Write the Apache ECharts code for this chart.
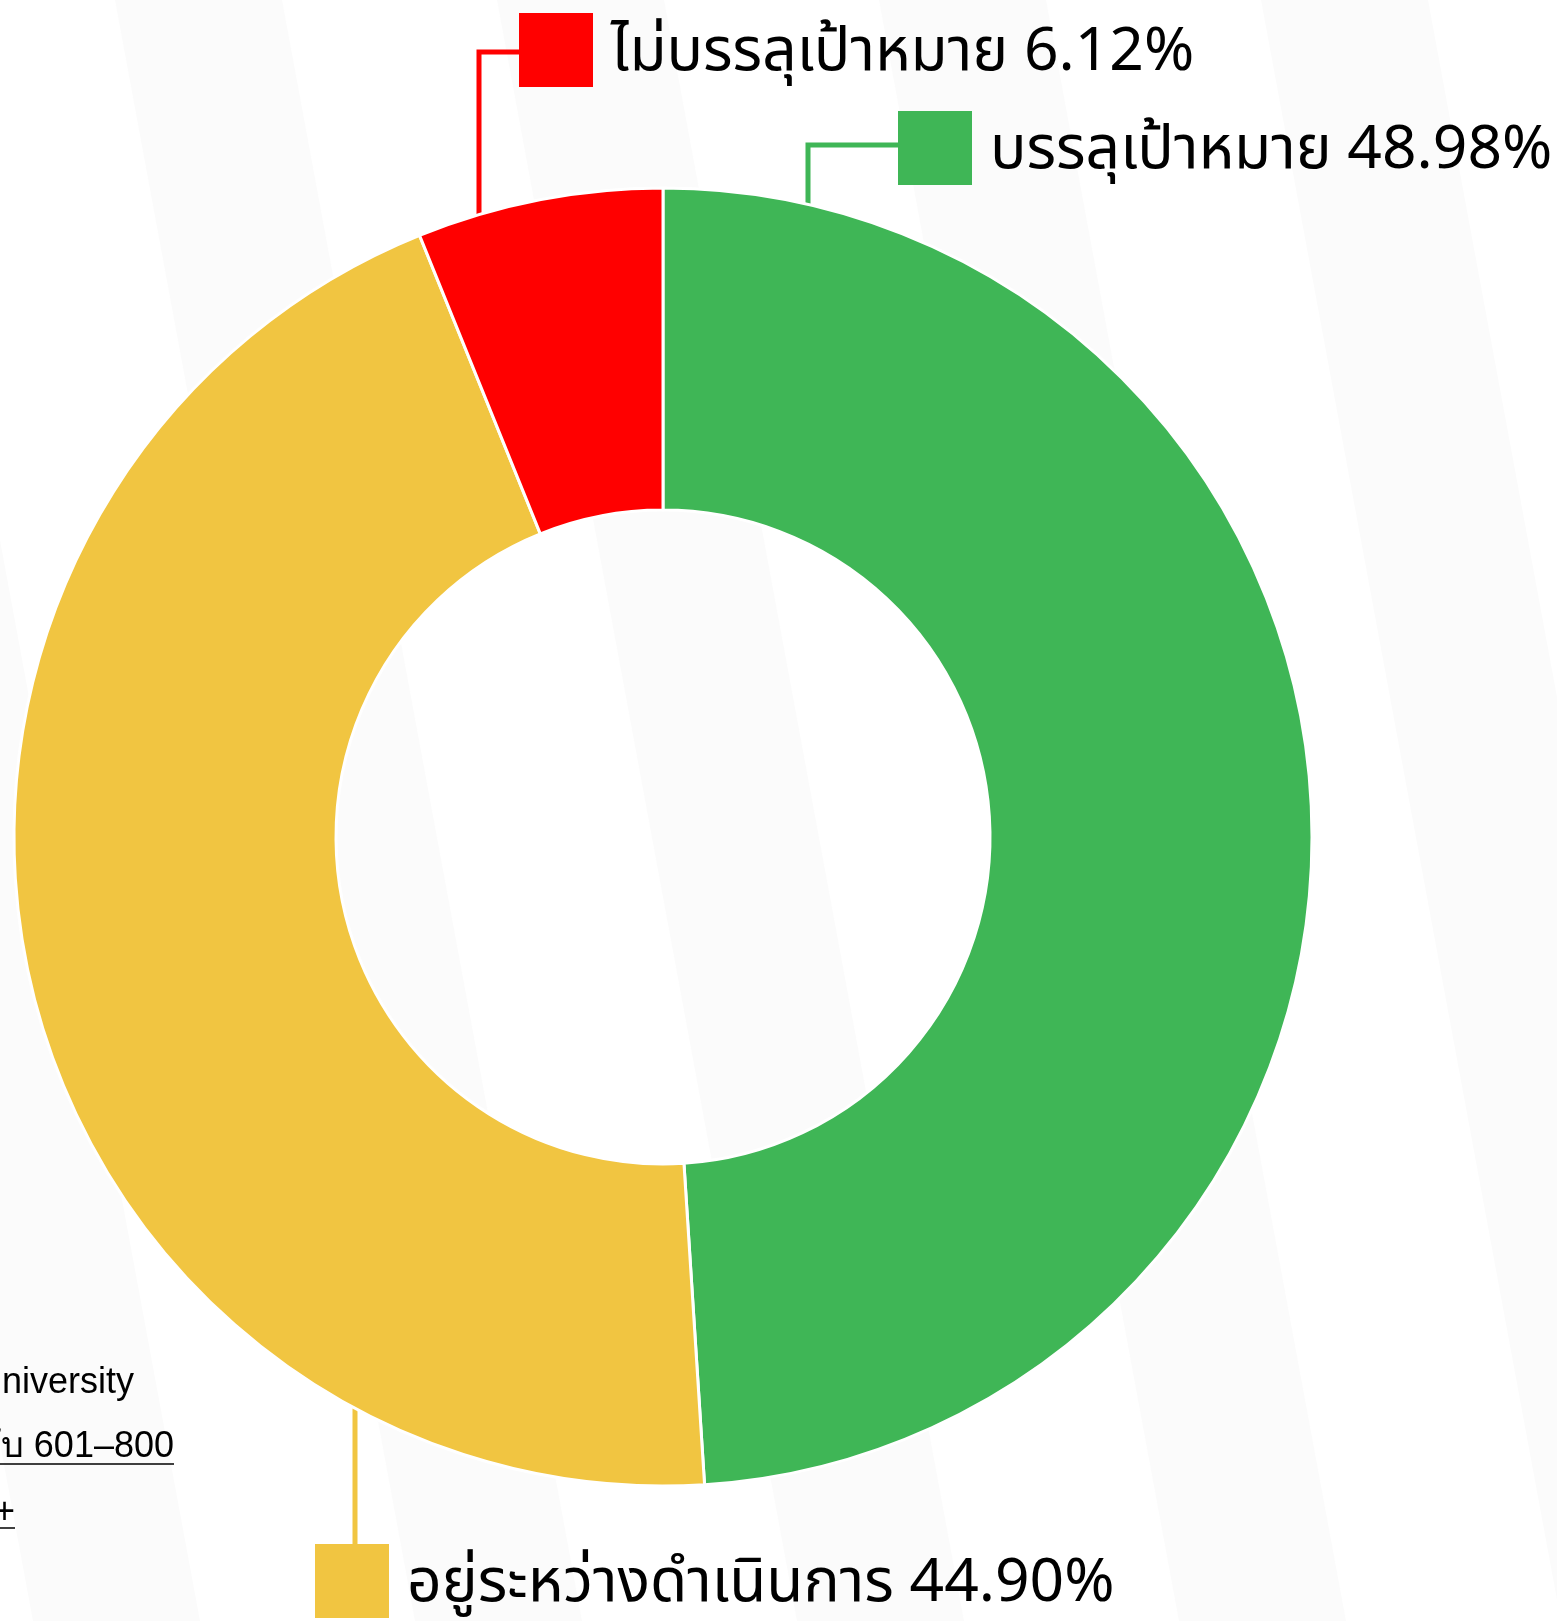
<!DOCTYPE html>
<html>
<head>
<meta charset="utf-8">
<script src="https://cdn.jsdelivr.net/npm/echarts@6/dist/echarts.min.js"></script>
<style>
  html, body { margin: 0; padding: 0; background: #fff; }
  #chart { width: 1557px; height: 1621px; }
</style>
</head>
<body>
<div id="chart"></div>
<script>
// สถานะตัวชี้วัด (%)
const statusNames = ['บรรลุเป้าหมาย', 'อยู่ระหว่างดำเนินการ', 'ไม่บรรลุเป้าหมาย'];
const statusValues = [48.98, 44.90, 6.12];
const statusColors = ['#3fb656', '#f1c541', '#ff0000'];

// label box placement + where the leader line drops from the ring
const labelSpots = [
  { x: 898, y: 148, lineX: 808, lineY: 145 },
  { x: 315, y: 1581, lineX: 355, lineY: 1544 },
  { x: 519, y: 50, lineX: 479, lineY: 52 }
];

const cx = 663, cy = 837, rIn = 327, rOut = 649;
const thaiFont = '"Noto Sans Thai", "Noto Sans", sans-serif';

// faint diagonal page stripes behind the chart
const bg = [];
for (let k = -1; k < 5; k++) {
  const x0 = 115 + k * 382;
  bg.push({
    type: 'polygon', silent: true, z: -10,
    shape: { points: [[x0, 0], [x0 + 167, 0], [x0 + 467, 1621], [x0 + 300, 1621]] },
    style: { fill: '#fbfbfb' }
  });
}
// bits of page text peeking in at the bottom left
const pageFont = '"Liberation Sans", Arial, sans-serif';
function pageText(t, x, y) {
  return {
    type: 'text', x: x, y: y, silent: true, z: -5,
    style: { text: t, fontSize: 36, fontFamily: pageFont, fill: '#000',
      textAlign: 'right', textVerticalAlign: 'middle', align: 'right', verticalAlign: 'middle' }
  };
}
bg.push(pageText('University', 134, 1383));
bg.push(pageText('อันดับ 601–800', 174, 1447));
bg.push(pageText('1001+', 15, 1513));
bg.push({ type: 'line', silent: true, z: -5, shape: { x1: 0, y1: 1464, x2: 174, y2: 1464 }, style: { stroke: '#000', lineWidth: 1.5 } });
bg.push({ type: 'line', silent: true, z: -5, shape: { x1: 0, y1: 1528, x2: 15, y2: 1528 }, style: { stroke: '#000', lineWidth: 1.5 } });

const chart = echarts.init(document.getElementById('chart'));

const option = {
  backgroundColor: '#fff',
  animation: false,
  graphic: { elements: bg },
  series: [{
    type: 'pie',
    center: [cx, cy],
    radius: [rIn, rOut],
    startAngle: 90,
    clockwise: true,
    silent: true,
    avoidLabelOverlap: false,
    itemStyle: { borderColor: '#fff', borderWidth: 3 },
    label: {
      show: true,
      position: 'outside',
      formatter: function (p) {
        return '{box| }{txt|' + p.name + ' ' + p.value.toFixed(2) + '%}';
      }
    },
    labelLine: { show: true, lineStyle: { width: 5 } },
    labelLayout: function (params) {
      const s = labelSpots[params.dataIndex];
      const dx = s.lineX - cx;
      const h = Math.sqrt(rOut * rOut - dx * dx);
      let pts;
      if (s.lineY < cy) {
        pts = [[s.lineX, cy - h], [s.lineX, s.lineY], [s.x, s.lineY]];
      } else {
        const y0 = cy + h;
        pts = [[s.lineX, y0], [s.lineX, (y0 + s.lineY) / 2], [s.lineX, s.lineY]];
      }
      return { x: s.x, y: s.y, align: 'left', verticalAlign: 'middle', labelLinePoints: pts };
    },
    data: statusNames.map(function (n, i) {
      return {
        name: n,
        value: statusValues[i],
        itemStyle: { color: statusColors[i] },
        labelLine: { lineStyle: { color: statusColors[i], width: 5 } },
        label: {
          rich: {
            box: { width: 74, height: 74, backgroundColor: statusColors[i] },
            txt: { fontSize: 60.5, fontFamily: thaiFont, color: '#000', padding: [16, 0, 0, 18] }
          }
        }
      };
    })
  }]
};

chart.setOption(option);
</script>
</body>
</html>
